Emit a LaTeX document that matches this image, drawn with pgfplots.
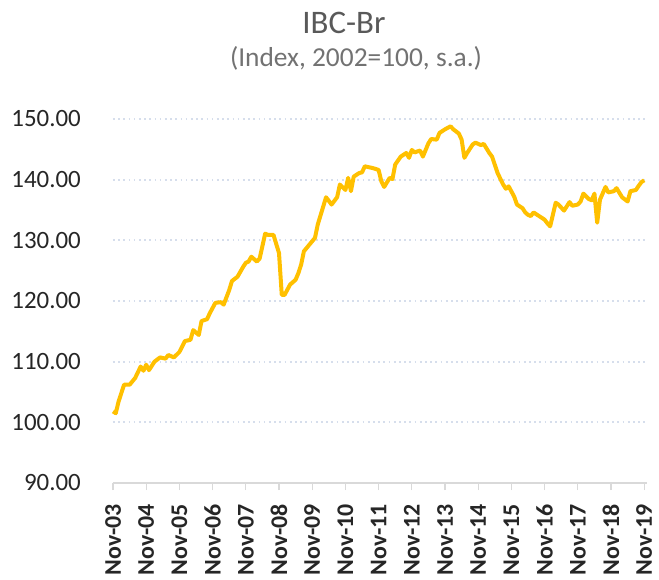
\documentclass[border=0pt]{standalone}
\usepackage{pgfplots}
\pgfplotsset{compat=1.18}
\usepackage{fontspec}
\setmainfont{Carlito}
\definecolor{ibc}{HTML}{FFC000}
\definecolor{gridc}{HTML}{D6DEEC}
\definecolor{axc}{HTML}{D9D9D9}
\definecolor{txt}{HTML}{262626}
\definecolor{ttl}{HTML}{595959}
\begin{document}
\begin{tikzpicture}
\begin{axis}[
  at={(0,0)}, anchor=south west,
  scale only axis, width=534bp, height=364bp,
  xmin=0, xmax=193, ymin=90, ymax=150,
  axis x line*=bottom, axis y line*=left,
  y axis line style={draw=none},
  x axis line style={axc, line width=1.3bp, -},
  ytick={90,100,...,150},
  ytick style={draw=none},
  xtick={0,12,...,192},
  xticklabels={Nov-03,Nov-04,Nov-05,Nov-06,Nov-07,Nov-08,Nov-09,Nov-10,Nov-11,Nov-12,Nov-13,Nov-14,Nov-15,Nov-16,Nov-17,Nov-18,Nov-19},
  tick align=outside,
  major tick length=7bp,
  xtick style={axc, line width=1.3bp},
  ymajorgrids,
  grid style={gridc, line width=1.7bp, dash pattern=on 1.7bp off 3.5bp},
  yticklabel style={/pgf/number format/fixed, /pgf/number format/fixed zerofill,
    /pgf/number format/precision=2, /pgf/number format/assume math mode=true,
    font=\fontsize{25}{25}\selectfont, text=txt, inner sep=0pt},
  yticklabel shift=25bp,
  xticklabel style={rotate=90, anchor=east, inner sep=0pt,
    font=\bfseries\fontsize{24}{24}\selectfont, text=txt},
  xticklabel shift=14bp,
  clip=false,
]
\addplot[ibc, line width=4bp, line join=round] coordinates {
(0,101.8) (1,101.5) (2,103.4) (4,106.2) (6,106.2) (8,107.3) (10,109.2) (11,108.5)
(12,109.5) (13,108.6) (15,110.0) (17,110.7) (19,110.5) (20,111.1) (22,110.7) (24,111.6)
(26,113.4) (28,113.6) (29,115.2) (31,114.4) (32,116.7) (34,117.0) (35,118.0) (37,119.7)
(39,119.8) (40,119.4) (42,121.8) (43,123.3) (45,124.0) (47,125.6) (48,126.3) (49,126.5)
(50,127.3) (52,126.5) (53,127.0) (55,131.1) (56,130.9) (58,130.9) (60,127.9) (61,121.0)
(62,121.0) (64,122.7) (66,123.5) (67,124.6) (68,126.0) (69,128.2) (71,129.3) (73,130.4)
(74,132.6) (76,135.6) (77,137.1) (79,135.9) (81,137.1) (82,139.2) (84,138.3) (85,140.3)
(86,138.1) (87,140.5) (89,141.1) (90,141.2) (91,142.2) (94,141.9) (96,141.6) (97,139.7)
(98,138.8) (100,140.3) (101,140.1) (102,142.5) (104,143.8) (106,144.4) (107,143.6) (108,144.9)
(109,144.5) (111,144.8) (112,143.8) (114,146.0) (115,146.7) (117,146.6) (118,147.7) (120,148.3)
(122,148.8) (123,148.3) (125,147.6) (126,146.6) (127,143.6) (128,144.4) (130,145.8) (131,146.1)
(133,145.7) (134,145.9) (136,144.4) (137,143.8) (139,141.1) (141,139.2) (142,138.5) (143,138.9)
(145,137.2) (146,135.9) (148,135.3) (149,134.6) (150,134.2) (151,134.0) (152,134.6) (154,134.0)
(156,133.4) (157,132.8) (158,132.3) (160,136.2) (161,135.9) (163,134.9) (165,136.3) (166,135.7)
(168,135.9) (169,136.4) (170,137.7) (172,136.8) (173,136.6) (174,137.7) (175,132.9) (176,136.7)
(178,138.8) (179,137.9) (181,138.1) (182,138.6) (184,137.1) (186,136.4) (187,138.1) (189,138.3)
(190,139.0) (191,139.6) (192,139.9)
};
\end{axis}
\node[anchor=base, font=\fontsize{33}{33}\selectfont, text=ttl, inner sep=0pt] at (231bp,449.7bp) {IBC-Br};
\node[anchor=base, font=\fontsize{27.5}{27.5}\selectfont, text=ttl!85!white, inner sep=0pt] at (243bp,416bp) {(Index, 2002=100, s.a.)};
\pgfresetboundingbox
\useasboundingbox (-113bp,-97bp) rectangle (546bp,483bp);
\end{tikzpicture}
\end{document}
